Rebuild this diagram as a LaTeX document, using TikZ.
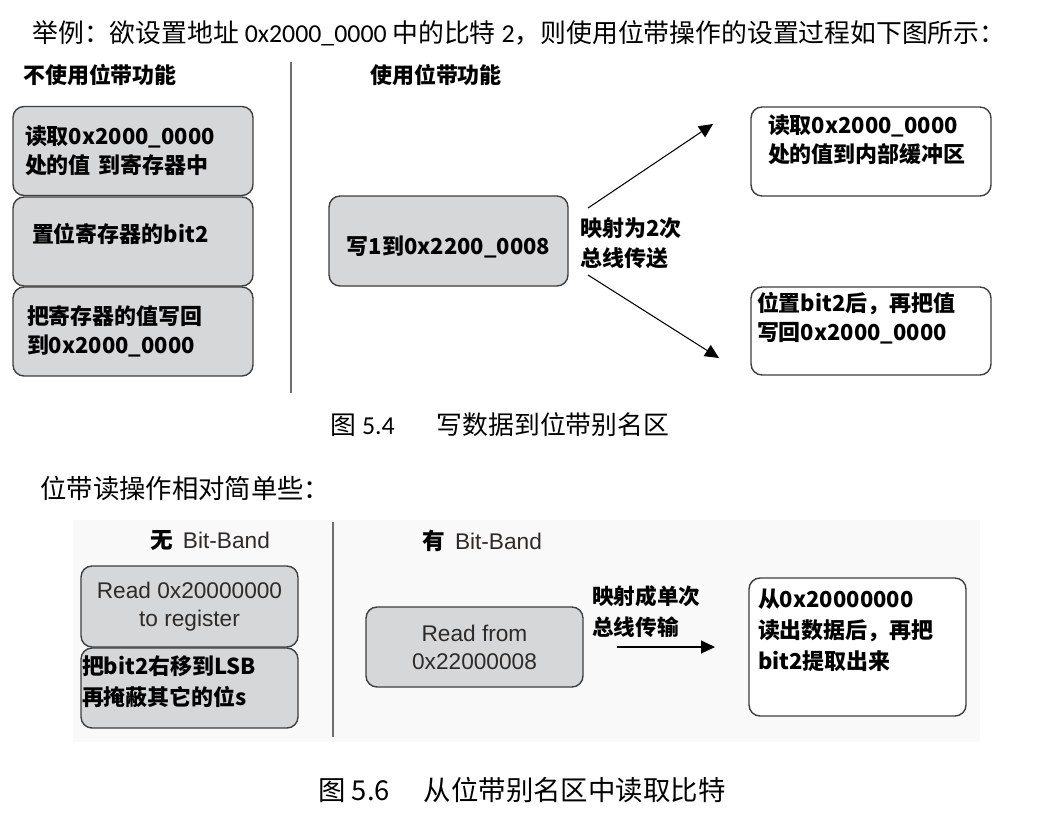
\documentclass[tikz,border=0pt]{standalone}
\usepackage{fontspec}
\usepackage{tikz}
\usetikzlibrary{arrows.meta}
\setmainfont{Carlito}
\newfontfamily\cjk{Noto Sans CJK SC}
\newfontfamily\helv{Liberation Sans}
\definecolor{boxgray}{RGB}{214,215,217}
\definecolor{rimgray}{RGB}{62,62,62}
\definecolor{bandbg}{RGB}{249,249,249}
\definecolor{inkgray}{RGB}{45,42,40}
\definecolor{rulegray}{RGB}{110,110,110}
% 文字下方留白
\newcommand{\padbelow}[1]{\rule[-#1]{0pt}{#1}}

\begin{document}
\begin{tikzpicture}[x=0.02cm,y=-0.02cm,
    box/.style={draw=rimgray, line width=0.8pt, rounded corners=0.22cm, inner sep=0pt, outer sep=0pt,
        font=\cjk\bfseries\fontsize{12.5}{16.5}\selectfont},
    graybox/.style={box, fill=boxgray},
    whitebox/.style={box, fill=white},
    head/.style={font=\cjk\bfseries\fontsize{12.5}{15}\selectfont},
    maplabel/.style={anchor=west, align=left, inner sep=0pt, font=\cjk\bfseries\fontsize{12.5}{17}\selectfont},
    maparrow/.style={line width=0.6pt, -{Triangle[length=0.28cm,width=0.26cm]}},
    sepline/.style={draw=rulegray, line width=1pt}]
    \useasboundingbox (0,0) rectangle (1040,826);

    % 说明文字
    \node[anchor=west, inner sep=0pt, font=\fontsize{14.7}{17}\selectfont] (intro) at (32,33)
        {{\cjk 举例：欲设置地址} 0x2000\_0000 {\cjk 中的比特} 2{\cjk ，则使用位带操作的设置过程如下图所示：}};

    % 图 5.4 左半
    \node[head] (headno) at (100,75) {不使用位带功能};
    \node[graybox, text width=4.32cm, inner xsep=0.24cm, minimum height=1.78cm, align=left] (rdreg) at (133,151)
        {读取0x2000\_0000\\处的值 到寄存器中};
    \node[graybox, text width=4.04cm, inner xsep=0.38cm, minimum height=1.78cm, align=left] (setbit) at (133,241.5)
        {置位寄存器的bit2\padbelow{0.35cm}};
    \node[graybox, text width=4.24cm, inner xsep=0.28cm, minimum height=1.78cm, align=left] (wrback) at (133,331.5)
        {把寄存器的值写回\\到0x2000\_0000};
    \coordinate (septop) at (291,62);
    \coordinate (sepbot) at (291,393);
    \draw[sepline] (septop) -- (sepbot);

    % 图 5.4 右半
    \node[head] (headyes) at (436,75) {使用位带功能};
    \node[graybox, minimum width=4.78cm, minimum height=1.8cm, text height=0.63cm] (wrone) at (448.5,241) {写1到0x2200\_0008};
    \node[maplabel] (twice) at (580,243) {映射为2次\\总线传送};
    \node[whitebox, text width=4.12cm, inner xsep=0.34cm, minimum height=1.78cm, align=left] (rdbuf) at (871,151.5)
        {读取0x2000\_0000\\处的值到内部缓冲区\padbelow{0.51cm}};
    \node[whitebox, text width=4.56cm, inner xsep=0.12cm, minimum height=1.76cm, align=left] (wrbuf) at (871,331)
        {位置bit2后，再把值\\写回0x2000\_0000\padbelow{0.6cm}};
    \coordinate (upfrom) at (588,208);
    \coordinate (upto) at (713,124);
    \coordinate (downfrom) at (588,275);
    \coordinate (downto) at (719,358);
    \draw[maparrow] (upfrom) -- (upto);
    \draw[maparrow] (downfrom) -- (downto);

    \node[anchor=west, inner sep=0pt, font=\fontsize{14.7}{17}\selectfont] (capwrite) at (330,425)
        {{\cjk 图} 5.4\hspace{0.84cm}{\cjk 写数据到位带别名区}};

    \node[anchor=west, inner sep=0pt, font=\cjk\fontsize{15}{17}\selectfont] (readnote) at (40,488)
        {位带读操作相对简单些：};

    % 图 5.6
    \fill[bandbg] (73,520) rectangle (980,742);
    \node[font=\fontsize{12.9}{15}\selectfont] (headnob) at (210,541) {{\cjk\bfseries 无}\ \ {\helv\color{inkgray}Bit-Band}};
    \node[graybox, minimum width=4.34cm, minimum height=1.62cm, align=center,
        font=\helv\fontsize{12.9}{15.9}\selectfont, text=inkgray] (rdword) at (189.5,606.5)
        {Read 0x20000000\\to register};
    \node[graybox, text width=4.3cm, inner xsep=0.02cm, minimum height=1.6cm, align=left,
        font=\cjk\bfseries\fontsize{12.5}{18}\selectfont] (shift) at (189.5,688)
        {把bit2右移到LSB\\再掩蔽其它的位s\padbelow{0.3cm}};
    \coordinate (sepbtop) at (333,522);
    \coordinate (sepbbot) at (333,737);
    \draw[sepline] (sepbtop) -- (sepbbot);

    \node[font=\fontsize{12.9}{15}\selectfont] (headyesb) at (482,541) {{\cjk\bfseries 有}\ \ {\helv\color{inkgray}Bit-Band}};
    \node[graybox, minimum width=4.34cm, minimum height=1.6cm, align=center,
        font=\helv\fontsize{12.9}{15.9}\selectfont, text=inkgray] (rdalias) at (474.5,647)
        {Read from\\0x22000008};
    \node[maplabel, font=\cjk\bfseries\fontsize{12.3}{17.5}\selectfont] (once) at (592,612) {映射成单次\\总线传输};
    \coordinate (onefrom) at (617,647);
    \coordinate (oneto) at (715,647);
    \draw[maparrow] (onefrom) -- (oneto);
    \node[whitebox, text width=3.98cm, inner xsep=0.18cm, minimum height=2.76cm, align=left,
        font=\cjk\bfseries\fontsize{12.5}{17.6}\selectfont] (rdout) at (857.5,647)
        {从0x20000000\\读出数据后，再把\\bit2提取出来\padbelow{0.72cm}};

    \node[anchor=west, inner sep=0pt, font=\cjk\fontsize{15.6}{19}\selectfont] (capread) at (318,790)
        {图 5.6\hspace{0.68cm}从位带别名区中读取比特};
\end{tikzpicture}
\end{document}
